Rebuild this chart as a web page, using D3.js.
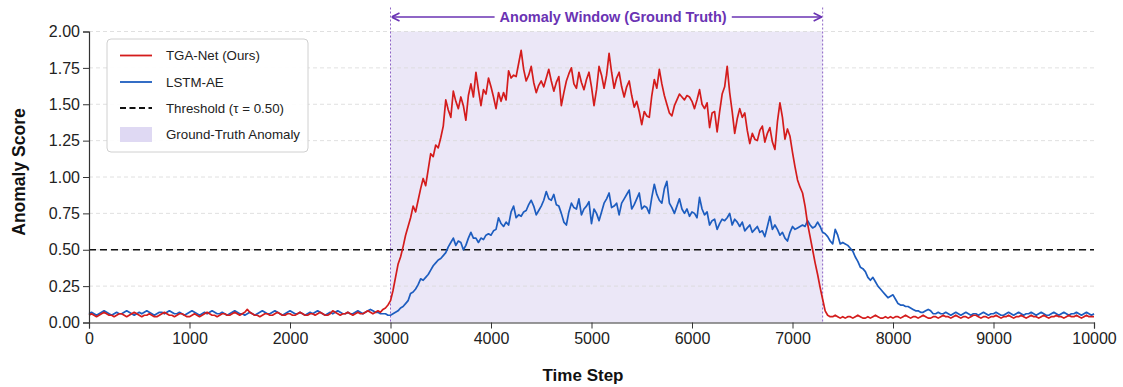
<!DOCTYPE html>
<html>
<head>
<meta charset="utf-8">
<script src="https://cdn.jsdelivr.net/npm/d3@7"></script>
<style>
    body { margin: 0; background: #fff; }
    svg { display: block; font-family: "Liberation Sans", Arial, sans-serif; }
</style>
</head>
<body>
<div id="chart"></div>
<script>
// Sampled every 25 steps, 0 .. 10000
const timeSteps = d3.range(0, 10001, 25);

const tgaScores = [
    // 0 - 975
    0.05,0.06,0.05,0.04,0.05,0.06,0.07,0.06,0.05,0.05,
    0.04,0.05,0.06,0.06,0.05,0.04,0.05,0.06,0.07,0.06,
    0.05,0.04,0.05,0.05,0.06,0.05,0.04,0.04,0.05,0.06,
    0.07,0.06,0.05,0.05,0.04,0.05,0.06,0.06,0.05,0.04,
    // 1000 - 1975
    0.04,0.05,0.06,0.05,0.04,0.05,0.06,0.07,0.06,0.05,
    0.05,0.04,0.05,0.06,0.06,0.05,0.05,0.06,0.07,0.06,
    0.05,0.06,0.07,0.09,0.07,0.06,0.05,0.05,0.04,0.05,
    0.06,0.06,0.05,0.05,0.06,0.07,0.06,0.05,0.05,0.06,
    // 2000 - 2975
    0.06,0.05,0.05,0.06,0.07,0.06,0.05,0.05,0.06,0.06,
    0.05,0.06,0.07,0.06,0.05,0.05,0.06,0.08,0.07,0.06,
    0.05,0.06,0.06,0.07,0.06,0.05,0.06,0.07,0.06,0.06,
    0.07,0.08,0.07,0.06,0.07,0.08,0.07,0.09,0.10,0.12,
    // 3000 - 3975
    0.15,0.22,0.31,0.40,0.45,0.52,0.60,0.66,0.72,0.80,
    0.76,0.84,0.92,0.99,0.94,1.05,1.16,1.14,1.22,1.20,
    1.27,1.35,1.53,1.46,1.41,1.59,1.52,1.47,1.55,1.49,
    1.39,1.56,1.64,1.55,1.72,1.60,1.49,1.60,1.57,1.68,
    // 4000 - 4975
    1.62,1.55,1.47,1.58,1.52,1.58,1.53,1.73,1.68,1.70,
    1.69,1.78,1.87,1.74,1.66,1.70,1.76,1.65,1.58,1.63,
    1.66,1.62,1.68,1.74,1.66,1.59,1.65,1.69,1.49,1.58,
    1.66,1.71,1.75,1.64,1.61,1.72,1.65,1.60,1.67,1.72,
    // 5000 - 5975
    1.62,1.49,1.60,1.76,1.70,1.61,1.70,1.85,1.72,1.61,
    1.68,1.72,1.62,1.55,1.62,1.66,1.56,1.48,1.52,1.45,
    1.36,1.45,1.42,1.41,1.56,1.67,1.61,1.74,1.64,1.56,
    1.50,1.44,1.42,1.49,1.53,1.57,1.55,1.53,1.56,1.55,
    // 6000 - 6975
    1.52,1.47,1.53,1.60,1.50,1.47,1.51,1.34,1.44,1.45,
    1.31,1.45,1.57,1.62,1.76,1.58,1.45,1.30,1.40,1.47,
    1.41,1.44,1.32,1.23,1.30,1.26,1.25,1.32,1.35,1.24,
    1.30,1.34,1.24,1.19,1.38,1.51,1.41,1.26,1.33,1.28,
    // 7000 - 7975
    1.17,1.07,0.98,0.93,0.89,0.80,0.68,0.59,0.50,0.41,
    0.33,0.24,0.16,0.08,0.05,0.04,0.04,0.05,0.04,0.03,
    0.04,0.03,0.04,0.04,0.03,0.04,0.05,0.04,0.03,0.03,
    0.04,0.03,0.04,0.05,0.04,0.03,0.03,0.04,0.03,0.04,
    // 8000 - 8975
    0.03,0.04,0.04,0.03,0.04,0.05,0.04,0.03,0.04,0.04,
    0.03,0.04,0.05,0.04,0.03,0.03,0.04,0.04,0.03,0.04,
    0.05,0.04,0.04,0.03,0.04,0.05,0.04,0.03,0.04,0.04,
    0.03,0.04,0.05,0.05,0.04,0.03,0.04,0.04,0.03,0.04,
    // 9000 - 10000
    0.04,0.05,0.04,0.03,0.04,0.04,0.05,0.04,0.03,0.04,
    0.04,0.05,0.04,0.03,0.04,0.05,0.04,0.04,0.03,0.04,
    0.05,0.04,0.03,0.04,0.04,0.05,0.04,0.04,0.03,0.04,
    0.05,0.04,0.04,0.05,0.04,0.03,0.04,0.05,0.04,0.04,
    0.04
];

const lstmScores = [
    // 0 - 975
    0.06,0.07,0.06,0.05,0.06,0.07,0.08,0.07,0.06,0.05,
    0.06,0.07,0.06,0.06,0.07,0.08,0.07,0.06,0.05,0.06,
    0.07,0.06,0.07,0.08,0.07,0.06,0.05,0.06,0.07,0.07,
    0.06,0.07,0.08,0.07,0.06,0.06,0.07,0.06,0.05,0.06,
    // 1000 - 1975
    0.07,0.08,0.07,0.06,0.05,0.06,0.07,0.06,0.07,0.08,
    0.07,0.06,0.06,0.07,0.06,0.05,0.06,0.07,0.08,0.07,
    0.06,0.06,0.05,0.06,0.07,0.06,0.05,0.06,0.07,0.08,
    0.07,0.06,0.06,0.07,0.08,0.07,0.06,0.05,0.06,0.07,
    // 2000 - 2975
    0.08,0.07,0.06,0.06,0.07,0.06,0.05,0.06,0.07,0.06,
    0.07,0.08,0.07,0.06,0.05,0.06,0.07,0.06,0.07,0.08,
    0.07,0.06,0.06,0.07,0.06,0.06,0.07,0.08,0.07,0.06,
    0.07,0.08,0.09,0.08,0.07,0.07,0.06,0.06,0.06,0.05,
    // 3000 - 3975
    0.05,0.06,0.07,0.08,0.10,0.11,0.13,0.15,0.20,0.21,
    0.23,0.26,0.30,0.29,0.31,0.33,0.36,0.39,0.41,0.43,
    0.44,0.46,0.48,0.52,0.55,0.58,0.53,0.56,0.55,0.50,
    0.53,0.58,0.62,0.58,0.58,0.55,0.58,0.57,0.60,0.61,
    // 4000 - 4975
    0.60,0.63,0.64,0.72,0.68,0.66,0.69,0.67,0.76,0.80,
    0.72,0.74,0.73,0.76,0.77,0.81,0.84,0.80,0.74,0.77,
    0.80,0.84,0.90,0.85,0.84,0.88,0.81,0.80,0.75,0.69,
    0.67,0.76,0.82,0.79,0.78,0.85,0.74,0.78,0.80,0.83,
    // 5000 - 5975
    0.68,0.78,0.75,0.70,0.76,0.82,0.85,0.89,0.79,0.80,
    0.82,0.74,0.82,0.85,0.88,0.91,0.78,0.81,0.85,0.89,
    0.78,0.80,0.79,0.75,0.86,0.95,0.88,0.84,0.82,0.92,
    0.97,0.82,0.79,0.75,0.80,0.85,0.78,0.75,0.78,0.73,
    // 6000 - 6975
    0.76,0.75,0.72,0.86,0.78,0.74,0.76,0.67,0.70,0.71,
    0.64,0.68,0.71,0.70,0.72,0.75,0.67,0.71,0.69,0.66,
    0.69,0.63,0.65,0.67,0.62,0.64,0.66,0.62,0.63,0.59,
    0.66,0.73,0.64,0.67,0.64,0.60,0.62,0.58,0.56,0.62,
    // 7000 - 7975
    0.66,0.64,0.65,0.66,0.67,0.66,0.70,0.67,0.65,0.66,
    0.69,0.66,0.62,0.61,0.59,0.56,0.54,0.64,0.60,0.54,
    0.55,0.54,0.53,0.51,0.49,0.45,0.42,0.38,0.37,0.35,
    0.31,0.29,0.31,0.28,0.25,0.23,0.21,0.19,0.17,0.18,
    // 8000 - 8975
    0.19,0.16,0.13,0.12,0.12,0.11,0.11,0.10,0.09,0.08,
    0.08,0.07,0.07,0.08,0.09,0.08,0.06,0.06,0.07,0.06,
    0.06,0.07,0.06,0.05,0.06,0.07,0.06,0.05,0.06,0.07,
    0.06,0.05,0.06,0.06,0.05,0.06,0.07,0.06,0.05,0.06,
    // 9000 - 10000
    0.06,0.07,0.06,0.05,0.05,0.06,0.07,0.06,0.05,0.06,
    0.07,0.06,0.05,0.06,0.06,0.07,0.06,0.05,0.06,0.07,
    0.06,0.05,0.05,0.06,0.07,0.06,0.05,0.06,0.07,0.06,
    0.05,0.06,0.06,0.07,0.06,0.05,0.06,0.07,0.06,0.05,
    0.06
];

const xTicks = [0, 1000, 2000, 3000, 4000, 5000, 6000, 7000, 8000, 9000, 10000];
const yTicks = [0, 0.25, 0.5, 0.75, 1.0, 1.25, 1.5, 1.75, 2.0];
const anomalyWindow = [3000, 7300];
const threshold = 0.5;
const windowLabel = "Anomaly Window (Ground Truth)";
const legendLabels = ["TGA-Net (Ours)", "LSTM-AE", "Threshold (\u03C4 = 0.50)", "Ground-Truth Anomaly"];

const config = {
    width: 1123,
    height: 387,
    margin: {top: 31.5, right: 29, bottom: 64.5, left: 89}
};
const colors = {tga: "#d41c1c", lstm: "#1d5dbf", purple: "#6a33b3", shade: "#ebe7f7"};

const innerW = config.width - config.margin.left - config.margin.right;
const innerH = config.height - config.margin.top - config.margin.bottom;

const svg = d3.select("#chart").append("svg")
    .attr("width", config.width)
    .attr("height", config.height);

const chart = svg.append("g")
    .attr("transform", `translate(${config.margin.left},${config.margin.top})`);

const x = d3.scaleLinear().domain([0, 10000]).range([0, innerW]);
const y = d3.scaleLinear().domain([0, 2]).range([innerH, 0]);

// ground truth shading
chart.append("rect")
    .attr("x", x(anomalyWindow[0]))
    .attr("y", 0)
    .attr("width", x(anomalyWindow[1]) - x(anomalyWindow[0]))
    .attr("height", innerH)
    .attr("fill", colors.shade);

// horizontal grid
chart.append("g")
    .selectAll("line")
    .data(yTicks.filter(d => d > 0))
    .join("line")
    .attr("x1", 0)
    .attr("x2", innerW)
    .attr("y1", d => y(d))
    .attr("y2", d => y(d))
    .attr("stroke", "#d8d8d8")
    .attr("stroke-width", 0.8)
    .attr("stroke-dasharray", "4,3");

// window edges (dotted, reaching up to the arrow)
chart.append("g")
    .selectAll("line")
    .data(anomalyWindow)
    .join("line")
    .attr("x1", d => x(d))
    .attr("x2", d => x(d))
    .attr("y1", -24)
    .attr("y2", innerH)
    .attr("stroke", colors.purple)
    .attr("stroke-opacity", 0.75)
    .attr("stroke-width", 1)
    .attr("stroke-dasharray", "2,2");

// threshold
chart.append("line")
    .attr("x1", 0)
    .attr("x2", innerW)
    .attr("y1", y(threshold))
    .attr("y2", y(threshold))
    .attr("stroke", "#111")
    .attr("stroke-width", 1.5)
    .attr("stroke-dasharray", "7,4");

// score lines
const line = d3.line()
    .x((d, i) => x(timeSteps[i]))
    .y(d => y(d));

chart.append("path")
    .datum(lstmScores)
    .attr("fill", "none")
    .attr("stroke", colors.lstm)
    .attr("stroke-width", 1.7)
    .attr("stroke-linejoin", "round")
    .attr("d", line);

chart.append("path")
    .datum(tgaScores)
    .attr("fill", "none")
    .attr("stroke", colors.tga)
    .attr("stroke-width", 1.7)
    .attr("stroke-linejoin", "round")
    .attr("d", line);

// axes
const xAxis = chart.append("g")
    .attr("transform", `translate(0,${innerH})`)
    .call(d3.axisBottom(x).tickValues(xTicks).tickFormat(d3.format("d")).tickSizeOuter(0).tickSize(6).tickPadding(4));

const yAxis = chart.append("g")
    .call(d3.axisLeft(y).tickValues(yTicks).tickFormat(d3.format(".2f")).tickSizeOuter(0).tickSize(6).tickPadding(3));

[xAxis, yAxis].forEach(ax => {
    ax.select(".domain").attr("stroke", "#333").attr("stroke-width", 1.2);
    ax.selectAll(".tick line").attr("stroke", "#333").attr("stroke-width", 1);
    ax.selectAll(".tick text")
        .attr("fill", "#222")
        .style("font-size", "16px")
        .style("font-family", "'Liberation Sans', Arial, sans-serif");
});

// axis titles
svg.append("text")
    .attr("x", 583)
    .attr("y", 381)
    .attr("text-anchor", "middle")
    .style("font-size", "17px")
    .style("font-weight", "bold")
    .attr("fill", "#111")
    .text("Time Step");

svg.append("text")
    .attr("transform", "translate(25,172) rotate(-90)")
    .attr("text-anchor", "middle")
    .style("font-size", "17.5px")
    .style("font-weight", "bold")
    .attr("fill", "#111")
    .text("Anomaly Score");

// annotation arrow over the window
const defs = svg.append("defs");
["start", "end"].forEach(k => {
    defs.append("marker")
        .attr("id", "arrow-" + k)
        .attr("viewBox", "0 0 10 10")
        .attr("refX", k === "end" ? 10 : 0)
        .attr("refY", 5)
        .attr("markerWidth", 10)
        .attr("markerHeight", 10)
        .attr("markerUnits", "userSpaceOnUse")
        .attr("orient", "auto")
        .append("path")
        .attr("d", k === "end" ? "M2,1 L10,5 L2,9" : "M8,1 L0,5 L8,9")
        .attr("fill", "none")
        .attr("stroke", colors.purple)
        .attr("stroke-width", 1.6);
});

const arrowY = -14.5;
const labelX = x(5215);
const annot = chart.append("g");
annot.append("line")
    .attr("x1", x(anomalyWindow[0]) + 1)
    .attr("x2", x(anomalyWindow[1]) - 1)
    .attr("y1", arrowY)
    .attr("y2", arrowY)
    .attr("stroke", colors.purple)
    .attr("stroke-width", 1.6)
    .attr("marker-start", "url(#arrow-start)")
    .attr("marker-end", "url(#arrow-end)");

const labelBg = annot.append("rect").attr("fill", "#fff");
const label = annot.append("text")
    .attr("x", labelX)
    .attr("y", arrowY)
    .attr("dy", "0.35em")
    .attr("text-anchor", "middle")
    .style("font-size", "14.5px")
    .style("font-weight", "bold")
    .attr("fill", colors.purple)
    .text(windowLabel);

const bb = label.node().getBBox();
labelBg
    .attr("x", bb.x - 5)
    .attr("y", bb.y)
    .attr("width", bb.width + 10)
    .attr("height", bb.height);

// legend
const legend = svg.append("g").attr("transform", "translate(107,39)");
legend.append("rect")
    .attr("width", 201)
    .attr("height", 113)
    .attr("rx", 4)
    .attr("fill", "#fff")
    .attr("fill-opacity", 0.92)
    .attr("stroke", "#d0d0d0");

const rowY = [16.5, 43, 69, 95];
const items = legend.selectAll("g.item")
    .data(legendLabels)
    .join("g")
    .attr("class", "item")
    .attr("transform", (d, i) => `translate(0,${rowY[i]})`);

items.each(function(d, i) {
    const g = d3.select(this);
    if (i < 3) {
        g.append("line")
            .attr("x1", 13).attr("x2", 45)
            .attr("stroke", [colors.tga, colors.lstm, "#111"][i])
            .attr("stroke-width", i === 2 ? 2 : 1.8)
            .attr("stroke-dasharray", i === 2 ? "6,3.5" : null);
    } else {
        g.append("rect")
            .attr("x", 13).attr("y", -7)
            .attr("width", 32).attr("height", 15)
            .attr("fill", "#dfd9f3");
    }
    g.append("text")
        .attr("x", 59)
        .attr("dy", "0.35em")
        .style("font-size", "13.3px")
        .attr("fill", "#222")
        .text(d);
});
</script>
</body>
</html>
